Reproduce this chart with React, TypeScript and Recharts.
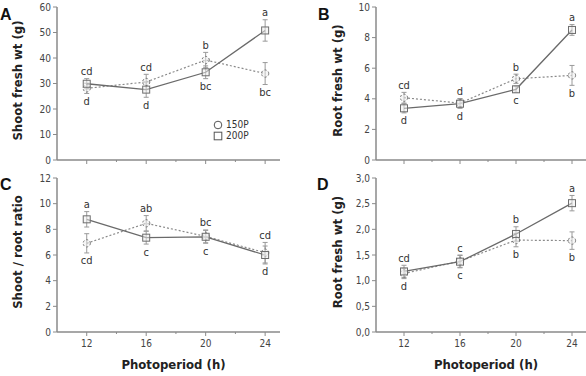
import React from "react";
import { LineChart, Line, XAxis, YAxis, ErrorBar, LabelList, Legend } from "recharts";

const photoperiods = [12, 16, 20, 24];
const xTicks = [12, 14, 16, 18, 20, 22, 24];

// A: shoot fresh weight
const shoot150 = [28.1, 30.6, 39.2, 33.9];
const shoot150Err = [2, 3, 3, 4.3];
const shoot200 = [29.9, 27.6, 34.4, 50.8];
const shoot200Err = [2, 3, 2.5, 4.2];
const shoot150Letters = ["d", "cd", "b", "bc"];
const shoot200Letters = ["cd", "d", "bc", "a"];

// B: root fresh weight
const root150 = [4.07, 3.72, 5.31, 5.53];
const root150Err = [0.35, 0.3, 0.3, 0.65];
const root200 = [3.38, 3.68, 4.62, 8.5];
const root200Err = [0.3, 0.3, 0.2, 0.35];
const root150Letters = ["cd", "d", "b", "b"];
const root200Letters = ["d", "d", "c", "a"];

// C: shoot / root ratio
const ratio150 = [6.91, 8.47, 7.45, 6.18];
const ratio150Err = [0.75, 0.6, 0.5, 0.8];
const ratio200 = [8.78, 7.35, 7.42, 6.0];
const ratio200Err = [0.6, 0.5, 0.5, 0.7];
const ratio150Letters = ["cd", "ab", "bc", "cd"];
const ratio200Letters = ["a", "c", "c", "d"];

// D: root fresh weight (second panel)
const rootD150 = [1.14, 1.38, 1.79, 1.78];
const rootD150Err = [0.1, 0.12, 0.13, 0.17];
const rootD200 = [1.18, 1.37, 1.91, 2.51];
const rootD200Err = [0.12, 0.12, 0.14, 0.15];
const rootD150Letters = ["d", "c", "b", "b"];
const rootD200Letters = ["cd", "c", "b", "a"];

const FONT = "'Liberation Sans Narrow', 'DejaVu Sans Condensed', 'Noto Sans', sans-serif";
const AXIS = "#8a8a8a";

const XTick = (props: any) => {
  const { x, y, payload, showLabel } = props;
  const major = photoperiods.includes(payload.value);
  return (
    <g>
      <line x1={x} x2={x} y1={y - 4} y2={major ? y : y - 2} stroke={AXIS} strokeWidth={1} />
      {showLabel && major && (
        <text x={x} y={y + 11} textAnchor="middle" fontSize={10} fill="#444" fontFamily={FONT}>
          {payload.value}
        </text>
      )}
    </g>
  );
};

const SquareDot = (props: any) => {
  const { cx, cy, index } = props;
  if (cx == null || cy == null) return <g key={index} />;
  return <rect key={index} x={cx - 3.5} y={cy - 3.5} width={7} height={7} fill="#eeeeee" fillOpacity={0.5} stroke="#6e6e6e" strokeWidth={1} />;
};

const LegendBox = (props: any) => {
  const { payload } = props;
  return (
    <div style={{ fontFamily: FONT, fontSize: 10, color: "#333", lineHeight: "11px" }}>
      {(payload || []).map((p: any) => (
        <div key={p.value} style={{ display: "flex", alignItems: "center" }}>
          <svg width={10} height={10} style={{ marginRight: 3 }}>
            {p.dataKey === "v150" ? (
              <circle cx={5} cy={5} r={3.8} fill="none" stroke="#555" />
            ) : (
              <rect x={1.2} y={1.2} width={7.6} height={7.6} fill="none" stroke="#555" />
            )}
          </svg>
          <span>{p.value}</span>
        </div>
      ))}
    </div>
  );
};

type PanelProps = {
  title: string;
  titleX: number;
  left: number;
  top: number;
  width: number;
  height: number;
  axisWidth: number;
  marginTop: number;
  xAxisHeight: number;
  yMax: number;
  yTicks: number[];
  fmt?: (v: number) => string;
  s150: number[];
  e150: number[];
  s200: number[];
  e200: number[];
  l150: string[];
  l200: string[];
  showXLabels: boolean;
  showLegend?: boolean;
};

function Panel(p: PanelProps) {
  const data = photoperiods.map((h, i) => ({
    h,
    v150: p.s150[i],
    e150: p.e150[i],
    l150: p.l150[i],
    v200: p.s200[i],
    e200: p.e200[i],
    l200: p.l200[i],
  }));
  const plotH = p.height - p.marginTop - p.xAxisHeight;
  const pxPerUnit = plotH / p.yMax;

  const letter = (own: number[], ownErr: number[], other: number[]) => (lp: any) => {
    const { x, y, value, index } = lp;
    const above = own[index] >= other[index];
    const off = ownErr[index] * pxPerUnit;
    const ty = above ? y - off - 7 : y + off + 8;
    return (
      <text key={index} x={x} y={ty} textAnchor="middle" dominantBaseline="central" fontSize={11} fill="#333" fontFamily={FONT}>
        {value}
      </text>
    );
  };

  return (
    <div style={{ position: "absolute", left: p.left, top: p.top }}>
      <LineChart width={p.width} height={p.height} data={data} margin={{ top: p.marginTop, right: 0, bottom: 0, left: 0 }}>
        <XAxis
          dataKey="h"
          type="number"
          domain={[10, 25]}
          ticks={xTicks}
          interval={0}
          height={p.xAxisHeight}
          axisLine={{ stroke: AXIS, strokeWidth: 1.5 }}
          tickLine={false}
          tickSize={4}
          tickMargin={0}
          tick={(tp: any) => <XTick {...tp} showLabel={p.showXLabels} />}
          label={
            p.showXLabels
              ? {
                  value: "Photoperiod (h)",
                  content: (lp: any) => {
                    const vb = lp.viewBox;
                    return (
                      <text x={vb.x + vb.width / 2 + 5} y={vb.y + 37} textAnchor="middle" fontSize={13} fontWeight={600} fill="#222" fontFamily={FONT}>
                        Photoperiod (h)
                      </text>
                    );
                  },
                }
              : undefined
          }
        />
        <YAxis
          type="number"
          domain={[0, p.yMax]}
          ticks={p.yTicks}
          interval={0}
          width={p.axisWidth}
          axisLine={{ stroke: AXIS, strokeWidth: 1.5 }}
          tickLine={{ stroke: AXIS }}
          tickSize={4}
          tickMargin={2}
          tick={{ fontSize: 10, fill: "#444", fontFamily: FONT }}
          tickFormatter={p.fmt}
          label={{
            value: p.title,
            content: (lp: any) => {
              const vb = lp.viewBox;
              const cx = p.titleX;
              const cy = vb.y + vb.height / 2 - 3;
              return (
                <text x={cx} y={cy} transform={`rotate(-90 ${cx} ${cy})`} textAnchor="middle" dominantBaseline="central" fontSize={13} fontWeight={600} fill="#222" fontFamily={FONT}>
                  {p.title}
                </text>
              );
            },
          }}
        />
        {p.showLegend && (
          <Legend
            layout="vertical"
            align="center"
            verticalAlign="middle"
            content={<LegendBox />}
            wrapperStyle={{ left: 213, top: 119, width: 50 }}
          />
        )}
        <Line
          dataKey="v150"
          name="150P"
          stroke="#8a8a8a"
          strokeWidth={1.2}
          strokeDasharray="2 2"
          dot={{ r: 3.6, fill: "#eeeeee", fillOpacity: 0.5, stroke: "#6e6e6e", strokeWidth: 1 }}
          isAnimationActive={false}
        >
          <ErrorBar dataKey="e150" width={2.5} stroke="#9a9a9a" strokeWidth={1} direction="y" />
          <LabelList dataKey="l150" content={letter(p.s150, p.e150, p.s200)} />
        </Line>
        <Line
          dataKey="v200"
          name="200P"
          stroke="#6a6a6a"
          strokeWidth={1.3}
          dot={<SquareDot />}
          isAnimationActive={false}
        >
          <ErrorBar dataKey="e200" width={2.5} stroke="#9a9a9a" strokeWidth={1} direction="y" />
          <LabelList dataKey="l200" content={letter(p.s200, p.e200, p.s150)} />
        </Line>
      </LineChart>
    </div>
  );
}

const comma = (v: number) => v.toFixed(1).replace(".", ",");

export default function App() {
  const letterStyle = { fontFamily: "'Liberation Sans', Arial, sans-serif", fontWeight: 700, fontSize: 16, fill: "#111" };
  return (
    <div style={{ position: "absolute", left: 0, top: 0, width: 586, height: 376, background: "#fff", overflow: "hidden" }}>
      <svg width={586} height={376} style={{ position: "absolute", left: 0, top: 0 }}>
        <text x={0} y={20} {...letterStyle}>A</text>
        <text x={318} y={20} {...letterStyle}>B</text>
        <text x={0} y={190} {...letterStyle}>C</text>
        <text x={317} y={190} {...letterStyle}>D</text>
      </svg>
      <Panel
        title="Shoot fresh wt (g)"
        titleX={17}
        left={0}
        top={0}
        width={280}
        height={180}
        axisWidth={57}
        marginTop={7}
        xAxisHeight={20}
        yMax={60}
        yTicks={[0, 10, 20, 30, 40, 50, 60]}
        s150={shoot150}
        e150={shoot150Err}
        s200={shoot200}
        e200={shoot200Err}
        l150={shoot150Letters}
        l200={shoot200Letters}
        showXLabels={false}
        showLegend
      />
      <Panel
        title="Root fresh wt (g)"
        titleX={44}
        left={293}
        top={0}
        width={293}
        height={180}
        axisWidth={83}
        marginTop={7}
        xAxisHeight={20}
        yMax={10}
        yTicks={[0, 2, 4, 6, 8, 10]}
        s150={root150}
        e150={root150Err}
        s200={root200}
        e200={root200Err}
        l150={root150Letters}
        l200={root200Letters}
        showXLabels={false}
      />
      <Panel
        title="Shoot / root ratio"
        titleX={17}
        left={0}
        top={170}
        width={280}
        height={206}
        axisWidth={57}
        marginTop={8}
        xAxisHeight={44}
        yMax={12}
        yTicks={[0, 2, 4, 6, 8, 10, 12]}
        s150={ratio150}
        e150={ratio150Err}
        s200={ratio200}
        e200={ratio200Err}
        l150={ratio150Letters}
        l200={ratio200Letters}
        showXLabels
      />
      <Panel
        title="Root fresh wt (g)"
        titleX={44}
        left={293}
        top={170}
        width={293}
        height={206}
        axisWidth={83}
        marginTop={8}
        xAxisHeight={44}
        yMax={3}
        yTicks={[0, 0.5, 1, 1.5, 2, 2.5, 3]}
        fmt={comma}
        s150={rootD150}
        e150={rootD150Err}
        s200={rootD200}
        e200={rootD200Err}
        l150={rootD150Letters}
        l200={rootD200Letters}
        showXLabels
      />
    </div>
  );
}
